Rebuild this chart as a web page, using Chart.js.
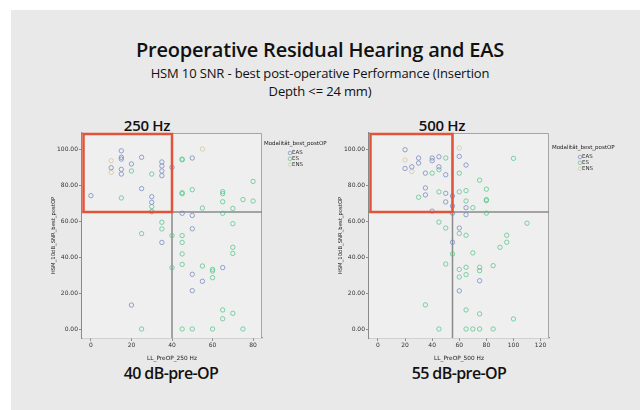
<!DOCTYPE html>
<html>
<head>
<meta charset="utf-8">
<script src="https://cdn.jsdelivr.net/npm/chart.js@4.4.1/dist/chart.umd.min.js"></script>
<style>
  html,body{margin:0;padding:0;background:#fff;}
  #wrap{position:relative;width:640px;height:410px;overflow:hidden;background:#fff;}
  #panel{position:absolute;left:11px;top:10px;width:629px;height:400px;background:#e9e9e9;}
  canvas{position:absolute;left:0;top:0;}
  .t{position:absolute;left:0;width:640px;text-align:center;color:#111;font-family:"Open Sans",sans-serif;white-space:nowrap;}
  .lbl{position:absolute;text-align:center;color:#111;font-family:"Open Sans",sans-serif;white-space:nowrap;transform:translateX(-50%);}
</style>
</head>
<body>
<div id="wrap">
  <div id="panel"></div>
  <div class="t" style="top:36px;font-size:20px;font-weight:600;letter-spacing:-0.2px;">Preoperative Residual Hearing and EAS</div>
  <div class="t" style="top:64px;font-size:13px;letter-spacing:-0.15px;">HSM 10 SNR - best post-operative Performance (Insertion</div>
  <div class="t" style="top:82px;font-size:13px;letter-spacing:-0.15px;">Depth &lt;= 24 mm)</div>
  <div class="lbl" style="left:147px;top:115px;font-size:15px;font-weight:600;letter-spacing:-0.3px;">250 Hz</div>
  <div class="lbl" style="left:442px;top:115px;font-size:15px;font-weight:600;letter-spacing:-0.3px;">500 Hz</div>
  <div class="lbl" style="left:171px;top:362px;font-size:16px;font-weight:600;letter-spacing:-0.6px;">40 dB-pre-OP</div>
  <div class="lbl" style="left:459px;top:362px;font-size:16px;font-weight:600;letter-spacing:-0.6px;">55 dB-pre-OP</div>
  <canvas id="c1" width="640" height="410"></canvas>
  <canvas id="c2" width="640" height="410"></canvas>
</div>
<script>
// ---- Data (x = pre-op hearing loss dB, y = HSM 10 dB SNR best post-op %) ----
const seriesNames = ["EAS", "ES", "ENS"];
const xTicks250 = [0, 20, 40, 60, 80];
const xTicks500 = [0, 20, 40, 60, 80, 100, 120];
const yTicks = [0, 20, 40, 60, 80, 100];
const cutoff250 = 40;
const cutoff500 = 55;
const cutoffScore = 65;

const eas250 = [[15,99],[15,95.4],[15,94.4],[10,89.6],[15,88.7],[15,86.1],[20,91.7],[25,95.4],
  [35,92.8],[35,90.6],[35,87.8],[35,85.2],[0,74.1],[25,78],[30,73.5],[30,70.4],[30,65.2],
  [40,89.8],[50,95],[45,64.3],[50,63.1],[50,55.7],[35,48.1],[55,26.5],[50,30.4],[50,21.3],
  [20,13.3],[65,34.1]];
const es250 = [[20,87.8],[30,86.1],[15,72.8],[30,68],[35,59.3],[35,55.6],[25,53],[40,51.9],
  [45,51.9],[45,48.1],[45,41.7],[45,35.9],[40,34.1],[55,35],[60,33.1],[60,32.2],[60,28.5],
  [45,94.4],[45,94],[45,75.7],[45,75.2],[50,77.4],[55,67.2],[65,76.3],[65,75.2],[65,70.7],
  [65,64.3],[70,67],[70,58.5],[70,45.4],[70,42],[75,71.9],[80,82],[80,71.1],[65,10.6],
  [65,5.7],[70,8.7],[25,0],[45,0],[50,0],[60,0],[75,0]];
const ens250 = [[10,93.5],[10,87],[55,100]];

const eas500 = [[20,99.6],[30,95],[30,92.2],[40,95],[40,93.5],[45,95.7],[45,90.1],[25,90.1],
  [20,89.2],[35,86.6],[50,85.7],[35,78.4],[35,74.5],[50,75.4],[50,70.6],[40,65.5],[55,73.9],
  [55,68.3],[55,64.4],[60,95.9],[65,91.1],[65,67.4],[65,63.5],[60,56.1],[55,48.2],[60,21.2],
  [75,26.8]];
const es500 = [[40,86.6],[45,88.5],[50,95],[30,73.2],[45,76.2],[60,86.6],[60,76.2],[65,76.9],
  [65,71.1],[70,67.4],[75,82.7],[80,77.7],[80,71.9],[80,71.3],[80,64.4],[100,94.8],[110,58.8],
  [45,59.4],[50,56.1],[60,53.1],[65,52.1],[55,41.7],[70,42.3],[50,36.1],[60,33.1],[65,34.3],
  [75,34.3],[75,32.4],[60,28.9],[65,30.2],[85,35.2],[90,45.4],[95,52.1],[95,48.2],[35,13.4],
  [65,10.6],[75,8.4],[100,5.6],[45,0],[65,0],[70,0],[75,0],[85,0]];
const ens500 = [[20,93.9],[25,87.5],[60,100.6]];

// ---- Styling ----
const FONT = "'DejaVu Sans', sans-serif";
const colors = ["rgba(115,135,190,0.75)", "rgba(80,195,135,0.72)", "rgba(215,205,165,0.9)"];

const decor = {
  id: 'decor',
  beforeDatasetsDraw(chart, args, o) {
    const {ctx, chartArea: a, scales: {x, y}} = chart;
    ctx.save();
    ctx.fillStyle = '#efefef';
    ctx.fillRect(a.left, a.top, a.right - a.left, a.bottom - a.top);
    ctx.strokeStyle = '#a5a5a5';
    ctx.lineWidth = 1;
    ctx.beginPath();
    ctx.moveTo(a.left, a.top + 0.5); ctx.lineTo(a.right - 0.5, a.top + 0.5); ctx.lineTo(a.right - 0.5, a.bottom);
    ctx.stroke();
    const cx = x.getPixelForValue(o.cutX), cy = y.getPixelForValue(o.cutY);
    ctx.strokeStyle = '#8a8a8a';
    ctx.lineWidth = 1.5;
    ctx.beginPath();
    ctx.moveTo(cx, a.top); ctx.lineTo(cx, a.bottom);
    ctx.moveTo(a.left, cy); ctx.lineTo(a.right, cy);
    ctx.stroke();
    ctx.restore();
  },
  afterDatasetsDraw(chart, args, o) {
    const {ctx, chartArea: a, scales: {x, y}} = chart;
    const cx = x.getPixelForValue(o.cutX), cy = y.getPixelForValue(o.cutY);
    ctx.save();
    ctx.strokeStyle = '#e2543a';
    ctx.lineWidth = 2.5;
    ctx.strokeRect(a.left + 1.5, a.top + 1, cx - a.left - 1.5, cy - a.top - 1);
    ctx.fillStyle = '#222';
    ctx.font = '5.5px ' + FONT;
    ctx.textBaseline = 'middle';
    ctx.textAlign = 'left';
    ctx.fillText('Modalität_best_postOP', o.lx, o.ly);
    seriesNames.forEach((n, i) => {
      const yy = o.ly + 9 + i * 5.8;
      ctx.strokeStyle = colors[i];
      ctx.lineWidth = 0.9;
      ctx.beginPath();
      ctx.arc(o.mx, yy, 1.8, 0, Math.PI * 2);
      ctx.stroke();
      ctx.fillStyle = '#333';
      ctx.fillText(n, o.mx + 2, yy);
    });
    ctx.restore();
  }
};

function mkDatasets(list) {
  return list.map((pts, i) => ({
    label: seriesNames[i],
    data: pts.map(([px, py]) => ({x: px, y: py})),
    borderColor: colors[i],
    backgroundColor: 'rgba(0,0,0,0)',
    borderWidth: 1,
    pointRadius: 2.2,
    pointStyle: 'circle'
  }));
}

function mkChart(id, sets, xMin, xMax, xt, xTitle, pad, dec) {
  return new Chart(document.getElementById(id), {
    type: 'scatter',
    data: {datasets: mkDatasets(sets)},
    plugins: [decor],
    options: {
      responsive: false,
      animation: false,
      devicePixelRatio: 1,
      events: [],
      layout: {padding: pad},
      plugins: {legend: {display: false}, tooltip: {enabled: false}, decor: dec},
      scales: {
        x: {
          type: 'linear', min: xMin, max: xMax,
          afterBuildTicks: s => { s.ticks = xt.map(v => ({value: v})); },
          afterFit: s => { s.height = 24; },
          grid: {drawOnChartArea: false, drawTicks: true, tickLength: 3, color: '#777', lineWidth: 0.8},
          border: {color: '#8a8a8a', width: 1.3},
          ticks: {font: {size: 6, family: FONT}, color: '#333', padding: 1, maxRotation: 0,
                  callback: v => String(v)},
          title: {display: true, text: xTitle, font: {size: 5.8, family: FONT}, color: '#222', padding: {top: 2, bottom: 0}}
        },
        y: {
          type: 'linear', min: -5, max: 108.9,
          afterBuildTicks: s => { s.ticks = yTicks.map(v => ({value: v})); },
          afterFit: s => { s.width = 32; },
          grid: {drawOnChartArea: false, drawTicks: true, tickLength: 3, color: '#777', lineWidth: 0.8},
          border: {color: '#8a8a8a', width: 1.3},
          ticks: {font: {size: 6, family: FONT}, color: '#333', padding: 1, callback: v => Number(v).toFixed(2)},
          title: {display: true, text: 'HSM_10dB_SNR_best_postOP', font: {size: 5.3, family: FONT}, color: '#222', padding: {top: 0, bottom: 2}}
        }
      }
    }
  });
}

mkChart('c1', [eas250, es250, ens250], -4.4, 84.4, xTicks250, 'LL_PreOP_250 Hz',
  {left: 50, top: 133, right: 378, bottom: 48},
  {cutX: cutoff250, cutY: cutoffScore, lx: 264, ly: 144, mx: 290});
mkChart('c2', [eas500, es500, ens500], -6.6, 126.2, xTicks500, 'LL_PreOP_500 Hz',
  {left: 337, top: 133, right: 91, bottom: 48},
  {cutX: cutoff500, cutY: cutoffScore, lx: 552, ly: 148, mx: 580});
</script>
</body>
</html>
